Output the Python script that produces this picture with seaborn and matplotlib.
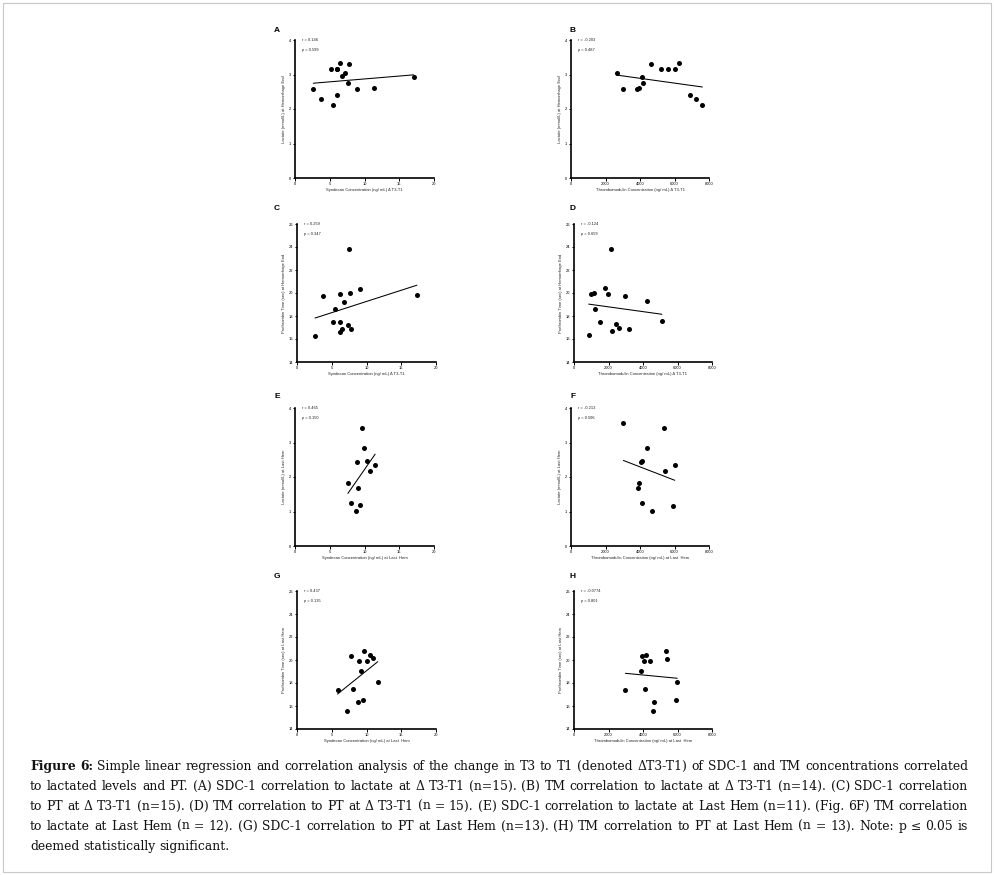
import numpy as np
import pandas as pd
import matplotlib
matplotlib.use("Agg")
import matplotlib.pyplot as plt
import seaborn as sns
from matplotlib.patches import Rectangle

sns.set_theme(style="ticks")
plt.rcParams["font.family"] = ["Liberation Sans", "DejaVu Sans"]

# ---------------- data ----------------
a_x = [2.63, 3.68, 5.17, 5.45, 6.0, 6.08, 6.08, 6.46, 6.79, 7.22, 7.61, 7.75, 8.95, 11.39, 17.08]
a_y = [2.57, 2.29, 3.17, 2.12, 3.17, 3.17, 2.40, 3.33, 2.96, 3.04, 2.75, 3.29, 2.57, 2.61, 2.93]

b_x = [2647, 3034, 3845, 3942, 4135, 4193, 4618, 5198, 5623, 6029, 6280, 6918, 7227, 7614]
b_y = [3.04, 2.57, 2.57, 2.60, 2.92, 2.75, 3.29, 3.17, 3.17, 3.17, 3.33, 2.40, 2.29, 2.12]

c_x = [2.60, 3.76, 5.20, 5.45, 6.12, 6.12, 6.12, 6.51, 6.80, 7.28, 7.47, 7.66, 7.81, 9.01, 17.25]
c_y = [16.26, 19.70, 17.44, 18.60, 19.90, 17.50, 16.63, 16.83, 19.26, 17.24, 23.80, 19.99, 16.89, 20.36, 19.84]

d_x = [853, 988, 1182, 1202, 1512, 1802, 1996, 2132, 2229, 2422, 2636, 2984, 3178, 4244, 5097]
d_y = [16.33, 19.94, 20.03, 18.62, 17.50, 20.40, 19.89, 23.82, 16.70, 17.30, 16.96, 19.74, 16.90, 19.31, 17.56]

e_x = [7.61, 8.04, 8.71, 8.85, 9.09, 9.38, 9.57, 9.90, 10.43, 10.81, 11.53]
e_y = [1.83, 1.24, 1.01, 2.43, 1.69, 1.18, 3.42, 2.85, 2.46, 2.17, 2.35]

f_x = [3034, 3884, 3942, 4058, 4135, 4116, 4406, 4696, 5372, 5430, 5932, 6010]
f_y = [3.56, 1.68, 1.83, 2.43, 2.46, 1.24, 2.85, 1.01, 3.42, 2.17, 1.17, 2.35]

g_x = [5.83, 7.13, 7.71, 8.10, 8.82, 8.96, 9.20, 9.49, 9.69, 10.02, 10.55, 10.89, 11.61]
g_y = [17.43, 15.53, 20.32, 17.52, 16.39, 19.91, 19.02, 16.54, 20.81, 19.91, 20.40, 20.14, 18.10]

h_x = [2983, 3874, 3932, 4068, 4087, 4145, 4397, 4571, 4649, 5346, 5404, 5908, 5986]
h_y = [17.43, 19.02, 20.32, 19.91, 17.52, 20.40, 19.91, 15.53, 16.39, 20.81, 20.12, 16.54, 18.10]

panel_letters = ["A", "B", "C", "D", "E", "F", "G", "H"]
r_labels = ["r = 0.146", "r = -0.203", "r = 0.259", "r = -0.124",
            "r = 0.465", "r = -0.213", "r = 0.437", "r = -0.0774"]
p_labels = ["p = 0.599", "p = 0.487", "p = 0.347", "p = 0.659",
            "p = 0.150", "p = 0.506", "p = 0.135", "p = 0.801"]
x_labels = ["Syndecan Concentration (ng/ mL) \u0394 T3-T1",
            "Thrombomodulin Concentration (ng/ mL) \u0394 T3-T1",
            "Syndecan Concentration (ng/ mL) \u0394 T3-T1",
            "Thrombomodulin Concentration (ng/ mL) \u0394 T3-T1",
            "Syndecan Concentration (ng/ mL) at Last  Hem",
            "Thrombomodulin Concentration (ng/ mL) at Last  Hem",
            "Syndecan Concentration (ng/ mL) at Last  Hem",
            "Thrombomodulin Concentration (ng/ mL) at Last  Hem"]
y_labels = ["Lactate (mmol/L) at Hemorrhage End",
            "Lactate (mmol/L) at Hemorrhage End",
            "Prothrombin Time (sec) at Hemorrhage End",
            "Prothrombin Time (sec) at Hemorrhage End",
            "Lactate (mmol/L) at Last Hem",
            "Lactate (mmol/L) at Last Hem",
            "Prothrombin Time (sec) at Last Hem",
            "Prothrombin Time (sec) at Last Hem"]
syn_ticks = [0, 5, 10, 15, 20]
tm_ticks = [0, 2000, 4000, 6000, 8000]
lac_ticks = [0, 1, 2, 3, 4]
pt_ticks = [14, 16, 18, 20, 22, 24, 26]

caption_lines = [
    "Figure 6: Simple linear regression and correlation analysis of the change in T3 to T1 (denoted \u0394T3-T1) of SDC-1 and TM concentrations correlated",
    "to lactated levels and PT. (A) SDC-1 correlation to lactate at \u0394 T3-T1 (n=15). (B) TM correlation to lactate at \u0394 T3-T1 (n=14). (C) SDC-1 correlation",
    "to PT at \u0394 T3-T1 (n=15). (D) TM correlation to PT at \u0394 T3-T1 (n = 15). (E) SDC-1 correlation to lactate at Last Hem (n=11). (Fig. 6F) TM correlation",
    "to lactate at Last Hem (n = 12). (G) SDC-1 correlation to PT at Last Hem (n=13). (H) TM correlation to PT at Last Hem (n = 13). Note: p \u2264 0.05 is",
    "deemed statistically significant.",
]

# ---------------- layout ----------------
W, H = 994, 875
fig = plt.figure(figsize=(W / 100, H / 100), dpi=100)
fig.patch.set_facecolor("white")

# axes boxes in pixels: left, right, top, bottom
boxes = [(295, 434, 40, 178), (571, 709, 40, 178),
         (297, 436, 224, 362), (574, 712, 224, 362),
         (295, 434, 408, 546), (571, 709, 408, 546),
         (297, 436, 591, 729), (574, 712, 591, 729)]
letter_pos = [(277, 30), (573, 30), (277, 209), (573, 209),
              (277, 397), (573, 397), (277, 576), (573, 576)]

xs = [a_x, b_x, c_x, d_x, e_x, f_x, g_x, h_x]
ys = [a_y, b_y, c_y, d_y, e_y, f_y, g_y, h_y]
xt = [syn_ticks, tm_ticks] * 4
yt = [lac_ticks, lac_ticks, pt_ticks, pt_ticks] * 2

for i in range(8):
    l, r, t, b = boxes[i]
    ax = fig.add_axes([l / W, 1 - b / H, (r - l) / W, (b - t) / H])
    df = pd.DataFrame({"x": xs[i], "y": ys[i]})
    sns.regplot(data=df, x="x", y="y", ax=ax, ci=None, truncate=True,
                scatter_kws=dict(s=13, color="black", linewidths=0, alpha=1),
                line_kws=dict(color="black", lw=0.75))
    ax.set_xlim(xt[i][0], xt[i][-1])
    ax.set_ylim(yt[i][0], yt[i][-1])
    ax.set_xticks(xt[i])
    ax.set_yticks(yt[i])
    ax.set_facecolor("white")
    sns.despine(ax=ax)
    for s in ["left", "bottom"]:
        ax.spines[s].set_linewidth(1.2)
        ax.spines[s].set_color("black")
    ax.tick_params(axis="both", which="major", length=1.8, width=0.7,
                   pad=1.2, labelsize=2.9, colors="black", direction="out")
    ax.set_xlabel(x_labels[i], fontsize=3.0, labelpad=1.5, color="#222222")
    ax.set_ylabel(y_labels[i], fontsize=3.0, labelpad=2.0, color="#222222")
    ax.text(0.05, 1.0, r_labels[i], transform=ax.transAxes, fontsize=2.9,
            va="center", ha="left", color="#222222")
    ax.text(0.05, 0.925, p_labels[i], transform=ax.transAxes, fontsize=2.9,
            va="center", ha="left", color="#222222")
    lx, ly = letter_pos[i]
    fig.text(lx / W, 1 - ly / H, panel_letters[i], fontsize=6, weight="bold",
             ha="center", va="center", color="black")

# ---------------- caption (justified) ----------------
fig.canvas.draw()
rend = fig.canvas.get_renderer()
cap_family = ["DejaVu Serif"]


def measure(s, fs, bold=False):
    t = fig.text(0, 0, s, fontsize=fs, family=cap_family,
                 weight="bold" if bold else "normal")
    w = t.get_window_extent(rend).width
    t.remove()
    return w


# choose the font size so that the longest line fits the text block
x_left, x_right = 30, 968
nat = [measure(s, 10) for s in caption_lines[:4]]
cap_fs = 10 * (x_right - x_left - 4) / max(nat)
space_w = measure("a a", cap_fs) - measure("aa", cap_fs)

baselines = [770, 790, 810, 830, 850]
for li, line in enumerate(caption_lines):
    words = line.split(" ")
    bolds = [False] * len(words)
    if li == 0:
        bolds[0] = True
        bolds[1] = True
    widths = [measure(w, cap_fs, bo) for w, bo in zip(words, bolds)]
    if li < 4 and len(words) > 1:
        gap = (x_right - x_left - sum(widths)) / (len(words) - 1)
    else:
        gap = space_w
    x = x_left
    for w, bo, wd in zip(words, bolds, widths):
        fig.text(x / W, 1 - baselines[li] / H, w, fontsize=cap_fs,
                 family=cap_family, weight="bold" if bo else "normal",
                 ha="left", va="baseline", color="#111111")
        x += wd + gap

# thin frame around the whole figure
fig.patches.append(Rectangle((0.003, 0.003), 0.994, 0.994, transform=fig.transFigure,
                             fill=False, ec="#c8c8c8", lw=0.8))

fig.savefig("out.png", dpi=100, facecolor="white")
